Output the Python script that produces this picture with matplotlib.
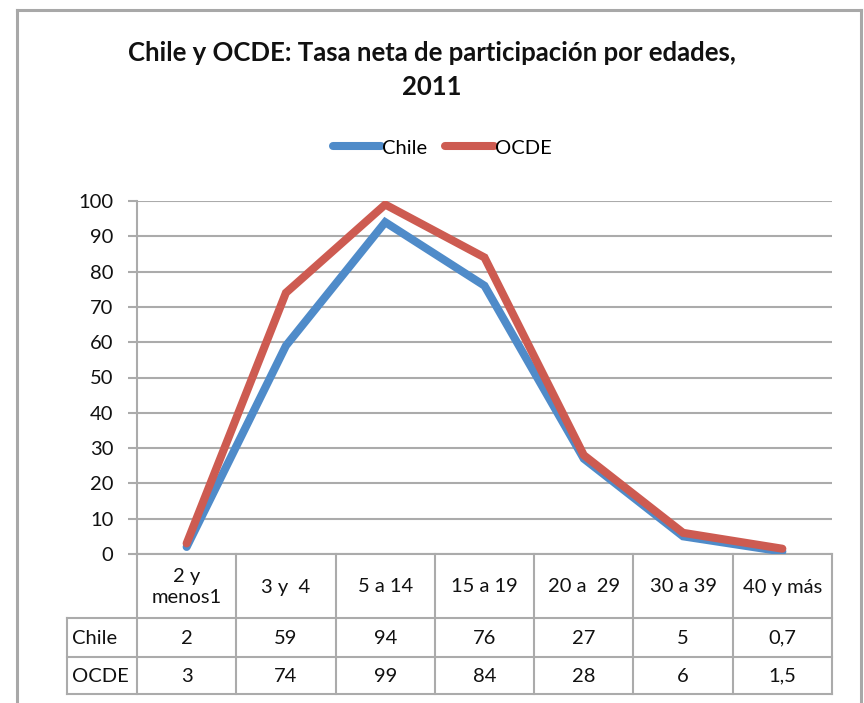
import matplotlib.pyplot as plt
import matplotlib.transforms as mtransforms
from matplotlib.lines import Line2D

# Data
categories = ["2 y\nmenos1", "3 y  4", "5 a 14", "15 a 19", "20 a  29", "30 a 39", "40 y más"]
chile = [2, 59, 94, 76, 27, 5, 0.7]
ocde = [3, 74, 99, 84, 28, 6, 1.5]
series_names = ["Chile", "OCDE"]
title = "Chile y OCDE: Tasa neta de participación por edades,\n2011"

BLUE = "#4F8BC9"
RED = "#CD5B51"
GRID = "#ABABAB"
W, H = 864, 703

plt.rcParams["font.family"] = ["Lato", "DejaVu Sans"]
FS = 14.5


def fx(px):
    return px / W


def fy(py):
    return 1 - py / H


def fmt(v):
    return str(v).replace(".", ",")


fig = plt.figure(figsize=(W / 100, H / 100), dpi=100)
ax = fig.add_axes([fx(137), fy(554), fx(832) - fx(137), fy(201) - fy(554)])

x = list(range(len(categories)))
ax.plot(x, chile, color=BLUE, lw=5.8, solid_capstyle="round",
        solid_joinstyle="miter", label=series_names[0], zorder=3)
ax.plot(x, ocde, color=RED, lw=5.8, solid_capstyle="round",
        solid_joinstyle="miter", label=series_names[1], zorder=4)

ax.set_xlim(-0.5, len(categories) - 0.5)
ax.set_ylim(0, 100)
ax.set_yticks(range(0, 101, 10))
ax.set_xticks([])
ax.grid(axis="y", color=GRID, lw=1.5)
ax.set_axisbelow(True)
for s in ["top", "right"]:
    ax.spines[s].set_visible(False)
for s in ["left", "bottom"]:
    ax.spines[s].set_color(GRID)
    ax.spines[s].set_linewidth(1.5)
ax.tick_params(axis="y", length=6.5, width=1.5, color=GRID, pad=10.5,
               labelsize=FS, labelcolor="#111111")

# Title and legend
fig.text(0.5, fy(70), title, ha="center", va="center", fontsize=18.5,
         fontweight="bold", linespacing=1.5, color="#111111")
fig.legend(loc="center", bbox_to_anchor=(fx(442), fy(148)), ncol=2,
           frameon=False, fontsize=FS, handlelength=2.4, handletextpad=0.05,
           columnspacing=0.9)

# Data table under the axis
tr = mtransforms.blended_transform_factory(ax.transData, fig.transFigure)
row_y = [554, 618, 657, 694]
lab_x = -0.5 - 70 / 99.3
right = len(categories) - 0.5
lkw = dict(color=GRID, lw=1.5, transform=tr, clip_on=False)
for i in range(len(categories) + 1):
    xe = i - 0.5
    fig.add_artist(Line2D([xe, xe], [fy(row_y[0]), fy(row_y[3])], **lkw))
fig.add_artist(Line2D([lab_x, lab_x], [fy(row_y[1]), fy(row_y[3])], **lkw))
for ry in row_y[1:]:
    fig.add_artist(Line2D([lab_x, right], [fy(ry), fy(ry)], **lkw))

for i, cat in enumerate(categories):
    fig.text(i, fy(587), cat, transform=tr, ha="center", va="center",
             fontsize=FS, linespacing=1.35, color="#111111")
for vals, name, ry in [(chile, series_names[0], 638), (ocde, series_names[1], 676)]:
    fig.text(lab_x + 0.05, fy(ry), name, transform=tr, ha="left", va="center",
             fontsize=FS, color="#111111")
    for i, v in enumerate(vals):
        fig.text(i, fy(ry), fmt(v), transform=tr, ha="center", va="center",
                 fontsize=FS, color="#111111")

# Chart area border
bkw = dict(color="#A8A8A8", lw=2.2, transform=fig.transFigure)
fig.add_artist(Line2D([fx(16.5), fx(16.5)], [fy(9.5), 0], **bkw))
fig.add_artist(Line2D([fx(16.5), fx(861)], [fy(9.5), fy(9.5)], **bkw))
fig.add_artist(Line2D([fx(861), fx(861)], [fy(9.5), 0], **bkw))

fig.savefig("out.png", dpi=100)
